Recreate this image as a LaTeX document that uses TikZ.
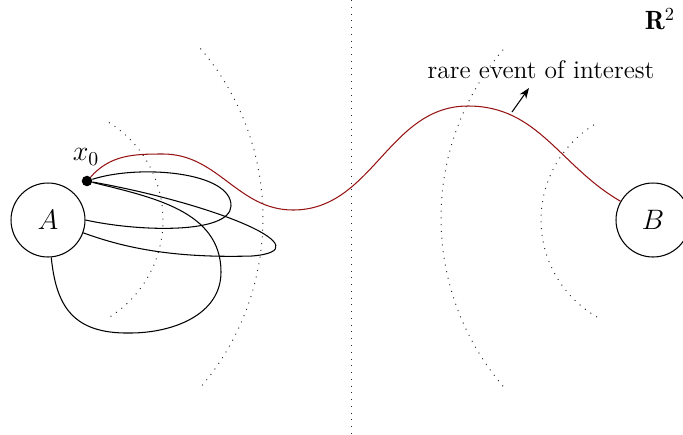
\RequirePackage{fix-cm}
\documentclass[tikz,border=0pt]{standalone}
\usepackage{fontspec}
\usetikzlibrary{arrows.meta}
\definecolor{pathred}{RGB}{150,20,20}
\begin{document}
\begin{tikzpicture}[
  x=0.02cm, y=-0.02cm,
  set/.style={draw, circle, minimum size=1.48cm, inner sep=0pt, line width=0.6pt, font=\fontsize{16}{18}\selectfont},
  lvl/.style={black!85, line width=0.55pt, dash pattern=on 0.55pt off 3.3pt},
  traj/.style={line width=0.6pt},
  rare/.style={pathred, line width=0.6pt}
]
\useasboundingbox (0,0) rectangle (683,434);
\node[set] (A) at (48,220) {$A$};
\node[set] (B) at (653,220) {$B$};
\node[circle, fill, inner sep=0pt, minimum size=6pt] (x0) at (87,181) {};
\node[font=\fontsize{16}{18}\selectfont] (x0lab) at (86,157) {$x_0$};
\node[font=\fontsize{15}{17}\selectfont] (R) at (660,19) {$\mathbf{R}^2$};
\node[font=\fontsize{14.5}{17}\selectfont] (txt) at (541,70) {rare event of interest};
% level sets
\coordinate (top) at (351,0);
\coordinate (bot) at (351,434);
\draw[lvl] (top) -- (bot);
\draw[lvl] ([shift={(-58:115)}]A.center) arc[start angle=-58, end angle=58, radius=115];
\draw[lvl] ([shift={(-40.5:261)}]2,218) arc[start angle=-40.5, end angle=40.5, radius=261];
\draw[lvl] ([shift={(120:112)}]B.center) arc[start angle=120, end angle=240, radius=112];
\draw[lvl] ([shift={(139.5:259)}]700,218) arc[start angle=139.5, end angle=220.5, radius=259];
% trajectories back to A
\draw[traj] (x0) .. controls (140,164) and (232,172) .. (231,206) .. controls (230,234) and (140,232) .. (A.east);
\draw[traj] (x0) .. controls (220,205) and (325,250) .. (252,256) .. controls (180,258) and (130,250) .. (A.-20);
\draw[traj] (x0) to[out=-14, in=90] (221,272) to[out=-90, in=0] (130,333) .. controls (72,334) and (56,305) .. (A.-85);
% rare event
\coordinate (low) at (293,210);
\coordinate (high) at (468,106);
\draw[rare] (x0) to[out=48, in=180] (163,154) to[out=0, in=180] (low) to[out=0, in=180] (high) to[out=0, in=150] (B.150);
\coordinate (ev) at (512,112);
\coordinate (tip) at (529,88);
\draw[-{Stealth[length=6pt,width=4.5pt]}, line width=0.6pt] (ev) -- (tip);
\end{tikzpicture}
\end{document}
